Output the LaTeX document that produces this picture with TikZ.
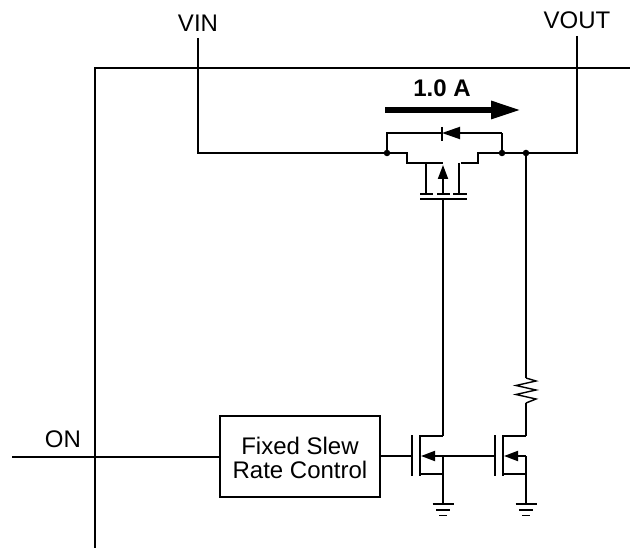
\documentclass[tikz,border=0pt]{standalone}
\usepackage{fontspec}
\setmainfont{Liberation Sans}
\usetikzlibrary{arrows.meta,positioning}

\begin{document}
\begin{tikzpicture}[x=1pt,y=-1pt]
  \tikzset{
    wire/.style={draw,line width=1.9pt},
    plate/.style={draw,line width=2.1pt},
    lbl/.style={inner sep=0pt,font=\fontsize{24}{24}\selectfont},
    blockbox/.style={draw,line width=2pt,minimum width=160pt,minimum height=81pt,
      align=center,inner sep=0pt,font=\fontsize{24}{24}\selectfont},
    junc/.style={circle,fill=black,inner sep=0pt,minimum size=6.5pt},
    tipline/.style={wire,-{Triangle[length=14pt,width=10pt]}},
    diodeline/.style={wire,-{Triangle[length=18pt,width=12pt]}}
  }
  \useasboundingbox (0,0) rectangle (630,548);

  % chip outline
  \coordinate (chipa) at (95,548);
  \coordinate (chipb) at (95,68);
  \coordinate (chipc) at (630,68);
  \draw[wire] (chipa) -- (chipb) -- (chipc);

  % labels
  \node[lbl] (vin) at (198,23) {VIN};
  \node[lbl] (vout) at (577,20) {VOUT};
  \node[lbl] (on) at (63,439) {ON};
  \node[lbl,font=\fontsize{24}{24}\selectfont\bfseries] (amps) at (442,88) {1.0 A};
  \node[blockbox] (slew) at (300,456.5) {};
  \node[lbl,align=center] (slewtext) at (300,457.5) {Fixed Slew\\Rate Control};

  % input, output rail
  \coordinate (vintop) at (198,38);
  \coordinate (vinbot) at (198,153);
  \coordinate (vouttop) at (577,36);
  \coordinate (voutbot) at (577,153);
  \node[junc] (jl) at (387,153) {};
  \node[junc] (jr) at (502,153) {};
  \node[junc] (jo) at (526,153) {};
  \draw[wire] (vintop) -- (vinbot) -- (jl);
  \draw[wire] (vouttop) -- (voutbot) -- (jo) -- (jr);

  % current arrow
  \coordinate (ia) at (385,110);
  \coordinate (ib) at (521,110);
  \draw[line width=6pt,-{Triangle[length=30pt,width=17pt]}] (ia) -- (ib);

  % body diode
  \coordinate (da) at (387,133);
  \coordinate (db) at (502,133);
  \coordinate (dk) at (442,133);
  \draw[wire] (jl) -- (da) -- (dk);
  \draw[wire] (jr) -- (db);
  \draw[diodeline] (db) -- (dk);
  \draw[wire] (442,127) -- (442,141);

  % pass transistor
  \coordinate (sa) at (407,153);
  \coordinate (sb) at (407,163);
  \coordinate (sc) at (443,163);
  \coordinate (dra) at (478,153);
  \coordinate (drb) at (478,163);
  \coordinate (drc) at (461,163);
  \coordinate (bulk) at (443,194);
  \coordinate (bulktip) at (443,165);
  \coordinate (gatebar) at (443,199);
  \draw[wire] (jl) -- (sa) -- (sb) -- (sc);
  \draw[wire] (jr) -- (dra) -- (drb) -- (drc);
  \draw[wire] (426,163) -- (426,194);
  \draw[wire] (459,163) -- (459,194);
  \draw[tipline] (bulk) -- (bulktip);
  \draw[plate] (420,194) -- (433,194);
  \draw[plate] (437,194) -- (450,194);
  \draw[plate] (453,194) -- (467,194);
  \draw[plate] (420,199) -- (467,199);

  % pull down transistors
  \foreach \nm/\gx/\ox in {a/412/443,b/495/526}{
    \coordinate (g\nm) at (\gx,456);
    \coordinate (c\nm) at (\gx+8,456);
    \coordinate (d\nm) at (\ox,436);
    \coordinate (s\nm) at (\ox,474);
    \coordinate (t\nm) at (\ox,456);
    \coordinate (e\nm) at (\ox,504);
    \draw[plate] (\gx,435) -- (\gx,476);
    \draw[plate] (\gx+8,435) -- (\gx+8,476);
    \draw[wire] (\gx+8,436) -- (d\nm);
    \draw[wire] (\gx+8,474) -- (s\nm) -- (e\nm);
    \draw[wire] (t\nm) -- (s\nm);
    \draw[tipline] (t\nm) -- ([xshift=1pt]c\nm);
    \draw[wire] (\ox-10.5,504) -- (\ox+10.5,504);
    \draw[wire] (\ox-7,510) -- (\ox+7,510);
    \draw[wire] (\ox-4,515.5) -- (\ox+4,515.5);
  }
  \draw[wire] (12,457) -- (slew.west |- 0,457);
  \draw[wire] (slew.east |- 0,456) -- (ga);
  \draw[wire] (ta) -- (gb);
  \draw[wire] (gatebar) -- (da);

  % resistor
  \coordinate (ra) at (526,378);
  \coordinate (rb) at (526,403);
  \draw[wire] (jo) -- (ra);
  \draw[line width=1.4pt] (ra) -- (536,381) -- (516,385.5) -- (536,390) -- (516,394.5) -- (536,399) -- (rb);
  \draw[wire] (rb) -- (db);
\end{tikzpicture}
\end{document}
